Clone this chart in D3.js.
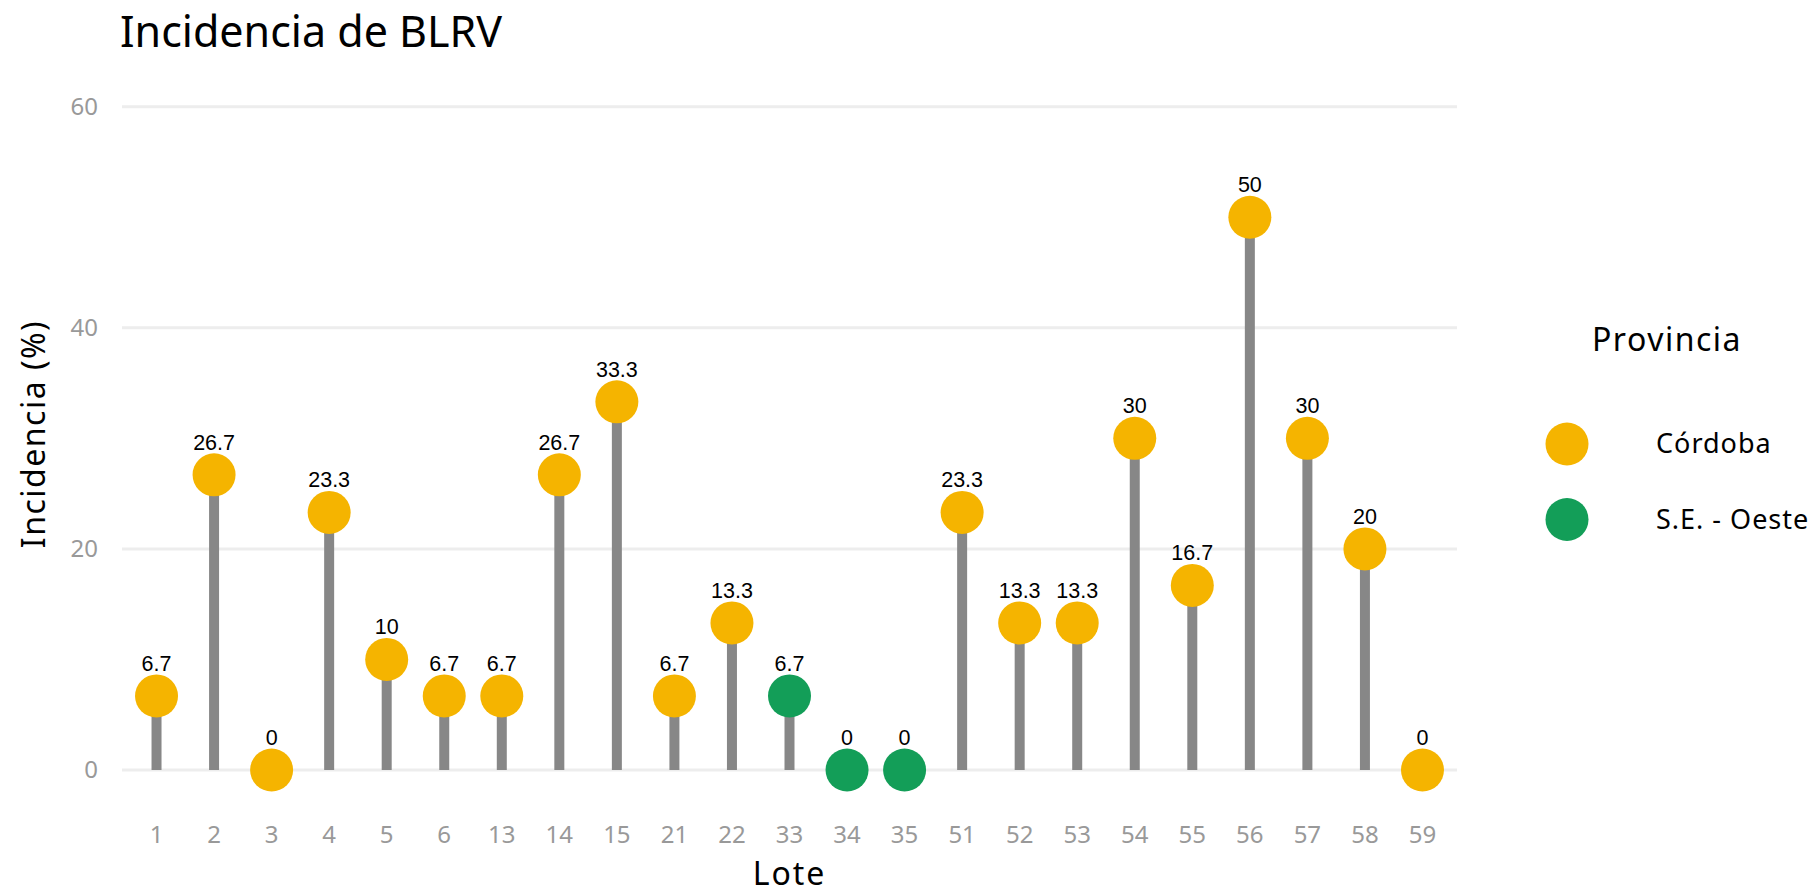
<!DOCTYPE html>
<html>
<head>
<meta charset="utf-8">
<script src="https://cdn.jsdelivr.net/npm/d3@7"></script>
<style>
body { margin: 0; background: #fff; }
svg { display: block; }
</style>
</head>
<body>
<svg width="1818" height="893"></svg>
<script>
// data
var lotes = ["1","2","3","4","5","6","13","14","15","21","22","33","34","35","51","52","53","54","55","56","57","58","59"];
var incidencia = [6.7,26.7,0,23.3,10,6.7,6.7,26.7,33.3,6.7,13.3,6.7,0,0,23.3,13.3,13.3,30,16.7,50,30,20,0];
var provincia = ["Córdoba","Córdoba","Córdoba","Córdoba","Córdoba","Córdoba","Córdoba","Córdoba","Córdoba","Córdoba","Córdoba",
  "S.E. - Oeste","S.E. - Oeste","S.E. - Oeste",
  "Córdoba","Córdoba","Córdoba","Córdoba","Córdoba","Córdoba","Córdoba","Córdoba","Córdoba"];
var provincias = ["Córdoba","S.E. - Oeste"];
var yTicks = [0,20,40,60];

var data = lotes.map(function(l, i) {
  return {lote: l, value: incidencia[i], prov: provincia[i]};
});

var svg = d3.select("svg"),
    panel = {left: 122, right: 1457, top: 106.7, bottom: 770};

var font = "'Noto Sans', sans-serif";

var x = d3.scalePoint().domain(lotes).range([panel.left, panel.right]).padding(0.6);
var y = d3.scaleLinear().domain([0, 60]).range([panel.bottom, panel.top]);
var color = d3.scaleOrdinal().domain(provincias).range(["#F5B400", "#139E58"]);

// grid
svg.append("g").selectAll("line")
  .data(yTicks)
  .enter().append("line")
  .attr("x1", panel.left).attr("x2", panel.right)
  .attr("y1", function(d) { return y(d); })
  .attr("y2", function(d) { return y(d); })
  .attr("stroke", "#ededed")
  .attr("stroke-width", 3);

// y tick labels
svg.append("g").selectAll("text")
  .data(yTicks)
  .enter().append("text")
  .attr("x", 98)
  .attr("y", function(d) { return y(d); })
  .attr("dy", "0.35em")
  .attr("text-anchor", "end")
  .attr("fill", "#999999")
  .style("font-family", font)
  .style("font-size", "24px")
  .text(function(d) { return d; });

// x tick labels
svg.append("g").selectAll("text")
  .data(lotes)
  .enter().append("text")
  .attr("x", function(d) { return x(d); })
  .attr("y", 835)
  .attr("dy", "0.35em")
  .attr("text-anchor", "middle")
  .attr("fill", "#999999")
  .style("font-family", font)
  .style("font-size", "24px")
  .text(function(d) { return d; });

// stems
svg.append("g").selectAll("line")
  .data(data)
  .enter().append("line")
  .attr("x1", function(d) { return x(d.lote); })
  .attr("x2", function(d) { return x(d.lote); })
  .attr("y1", y(0))
  .attr("y2", function(d) { return y(d.value); })
  .attr("stroke", "#878787")
  .attr("stroke-width", 10);

// points
svg.append("g").selectAll("circle")
  .data(data)
  .enter().append("circle")
  .attr("cx", function(d) { return x(d.lote); })
  .attr("cy", function(d) { return y(d.value); })
  .attr("r", 21.5)
  .attr("fill", function(d) { return color(d.prov); });

// value labels
svg.append("g").selectAll("text")
  .data(data)
  .enter().append("text")
  .attr("x", function(d) { return x(d.lote); })
  .attr("y", function(d) { return y(d.value) - 25; })
  .attr("text-anchor", "middle")
  .attr("fill", "#000")
  .style("font-family", "'Liberation Sans', Arial, sans-serif")
  .style("font-size", "21.5px")
  .text(function(d) { return d.value; });

// title
svg.append("text")
  .attr("x", 120)
  .attr("y", 47)
  .style("font-family", font)
  .style("font-size", "43px")
  .attr("fill", "#000")
  .text("Incidencia de BLRV");

// axis titles
svg.append("text")
  .attr("x", (panel.left + panel.right) / 2)
  .attr("y", 885)
  .attr("text-anchor", "middle")
  .style("font-family", font)
  .style("font-size", "32px")
  .style("letter-spacing", "2px")
  .text("Lote");

svg.append("text")
  .attr("transform", "translate(45,434) rotate(-90)")
  .attr("text-anchor", "middle")
  .style("font-family", font)
  .style("font-size", "32px")
  .style("letter-spacing", "1.5px")
  .text("Incidencia (%)");

// legend
var legend = svg.append("g");
legend.append("text")
  .attr("x", 1667)
  .attr("y", 351)
  .attr("text-anchor", "middle")
  .style("font-family", font)
  .style("font-size", "32px")
  .style("letter-spacing", "1.5px")
  .text("Provincia");

var items = legend.selectAll("g.item")
  .data(provincias)
  .enter().append("g")
  .attr("class", "item")
  .attr("transform", function(d, i) { return "translate(0," + (444 + i * 75.5) + ")"; });

items.append("circle")
  .attr("cx", 1567)
  .attr("r", 21.5)
  .attr("fill", function(d) { return color(d); });

items.append("text")
  .attr("x", 1656)
  .attr("dy", "0.35em")
  .style("font-family", font)
  .style("font-size", "27px")
  .style("letter-spacing", "1px")
  .text(function(d) { return d; });
</script>
</body>
</html>
